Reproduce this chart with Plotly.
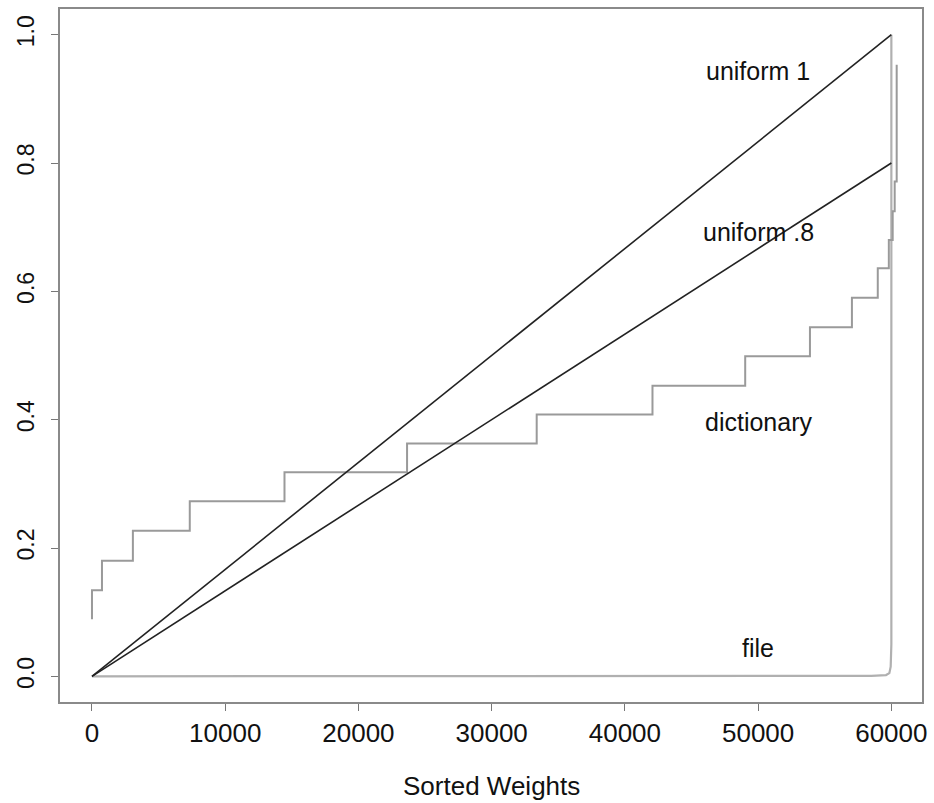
import plotly.graph_objects as go

# ---- data ----
uniform1_x = [0, 60000]
uniform1_y = [0.0, 1.0]

uniform08_x = [0, 60000]
uniform08_y = [0.0, 0.8]

dictionary_x = [0, 0, 750, 3070, 7340, 14450, 23650, 33380, 42070, 49030,
                53890, 57040, 58980, 59810, 60100, 60250, 60400]
dictionary_y = [0.089, 0.134, 0.180, 0.227, 0.273, 0.318, 0.363, 0.408, 0.453,
                0.499, 0.544, 0.590, 0.636, 0.680, 0.725, 0.771, 0.953]

file_x = [0, 40000, 58500, 59600, 59850, 59950, 60000, 60000]
file_y = [0.0, 0.0003, 0.0008, 0.002, 0.005, 0.015, 0.05, 1.0]

x_ticks = [0, 10000, 20000, 30000, 40000, 50000, 60000]
y_ticks = [0.0, 0.2, 0.4, 0.6, 0.8, 1.0]
y_ticklabels = ["0.0", "0.2", "0.4", "0.6", "0.8", "1.0"]

labels = ["uniform 1", "uniform .8", "dictionary", "file"]
label_x = [50000, 50000, 50000, 50000]
label_y = [0.943, 0.693, 0.397, 0.044]

FONT = "Liberation Sans, Arial, Helvetica, sans-serif"

fig = go.Figure()
fig.add_trace(go.Scatter(x=file_x, y=file_y, mode="lines",
                         line=dict(color="#b0b0b0", width=2.2), hoverinfo="skip"))
fig.add_trace(go.Scatter(x=dictionary_x, y=dictionary_y, mode="lines",
                         line=dict(color="#9a9a9a", width=2, shape="hv"), hoverinfo="skip"))
fig.add_trace(go.Scatter(x=uniform1_x, y=uniform1_y, mode="lines",
                         line=dict(color="#222222", width=1.6), hoverinfo="skip"))
fig.add_trace(go.Scatter(x=uniform08_x, y=uniform08_y, mode="lines",
                         line=dict(color="#222222", width=1.6), hoverinfo="skip"))

for t, lx, ly in zip(labels, label_x, label_y):
    fig.add_annotation(x=lx, y=ly, text=t, showarrow=False,
                       xanchor="center", yanchor="middle",
                       font=dict(family=FONT, size=25, color="#111111"))

fig.add_annotation(xref="paper", yref="paper", x=0.5, y=-0.121,
                   text="Sorted Weights", showarrow=False,
                   xanchor="center", yanchor="middle",
                   font=dict(family=FONT, size=26, color="#111111"))

fig.update_layout(
    width=934, height=803,
    margin=dict(l=60, r=7, t=8, b=101),
    plot_bgcolor="white", paper_bgcolor="white",
    showlegend=False,
    font=dict(family=FONT, size=24, color="#111111"),
)
fig.update_xaxes(range=[-2400, 62300], tickvals=x_ticks,
                 ticktext=[str(v) for v in x_ticks],
                 showgrid=False, zeroline=False,
                 showline=True, mirror=True, linecolor="#8a8a8a", linewidth=1.5,
                 ticks="outside", ticklen=7, tickcolor="#777777", tickwidth=1.2,
                 tickfont=dict(family=FONT, size=26, color="#111111"))
fig.update_yaxes(range=[-0.04, 1.04], tickvals=y_ticks, ticktext=y_ticklabels,
                 tickangle=-90,
                 showgrid=False, zeroline=False,
                 showline=True, mirror=True, linecolor="#8a8a8a", linewidth=1.5,
                 ticks="outside", ticklen=7, tickcolor="#777777", tickwidth=1.2,
                 ticklabelstandoff=8,
                 tickfont=dict(family=FONT, size=23, color="#111111"))

fig.write_html("out.html")
